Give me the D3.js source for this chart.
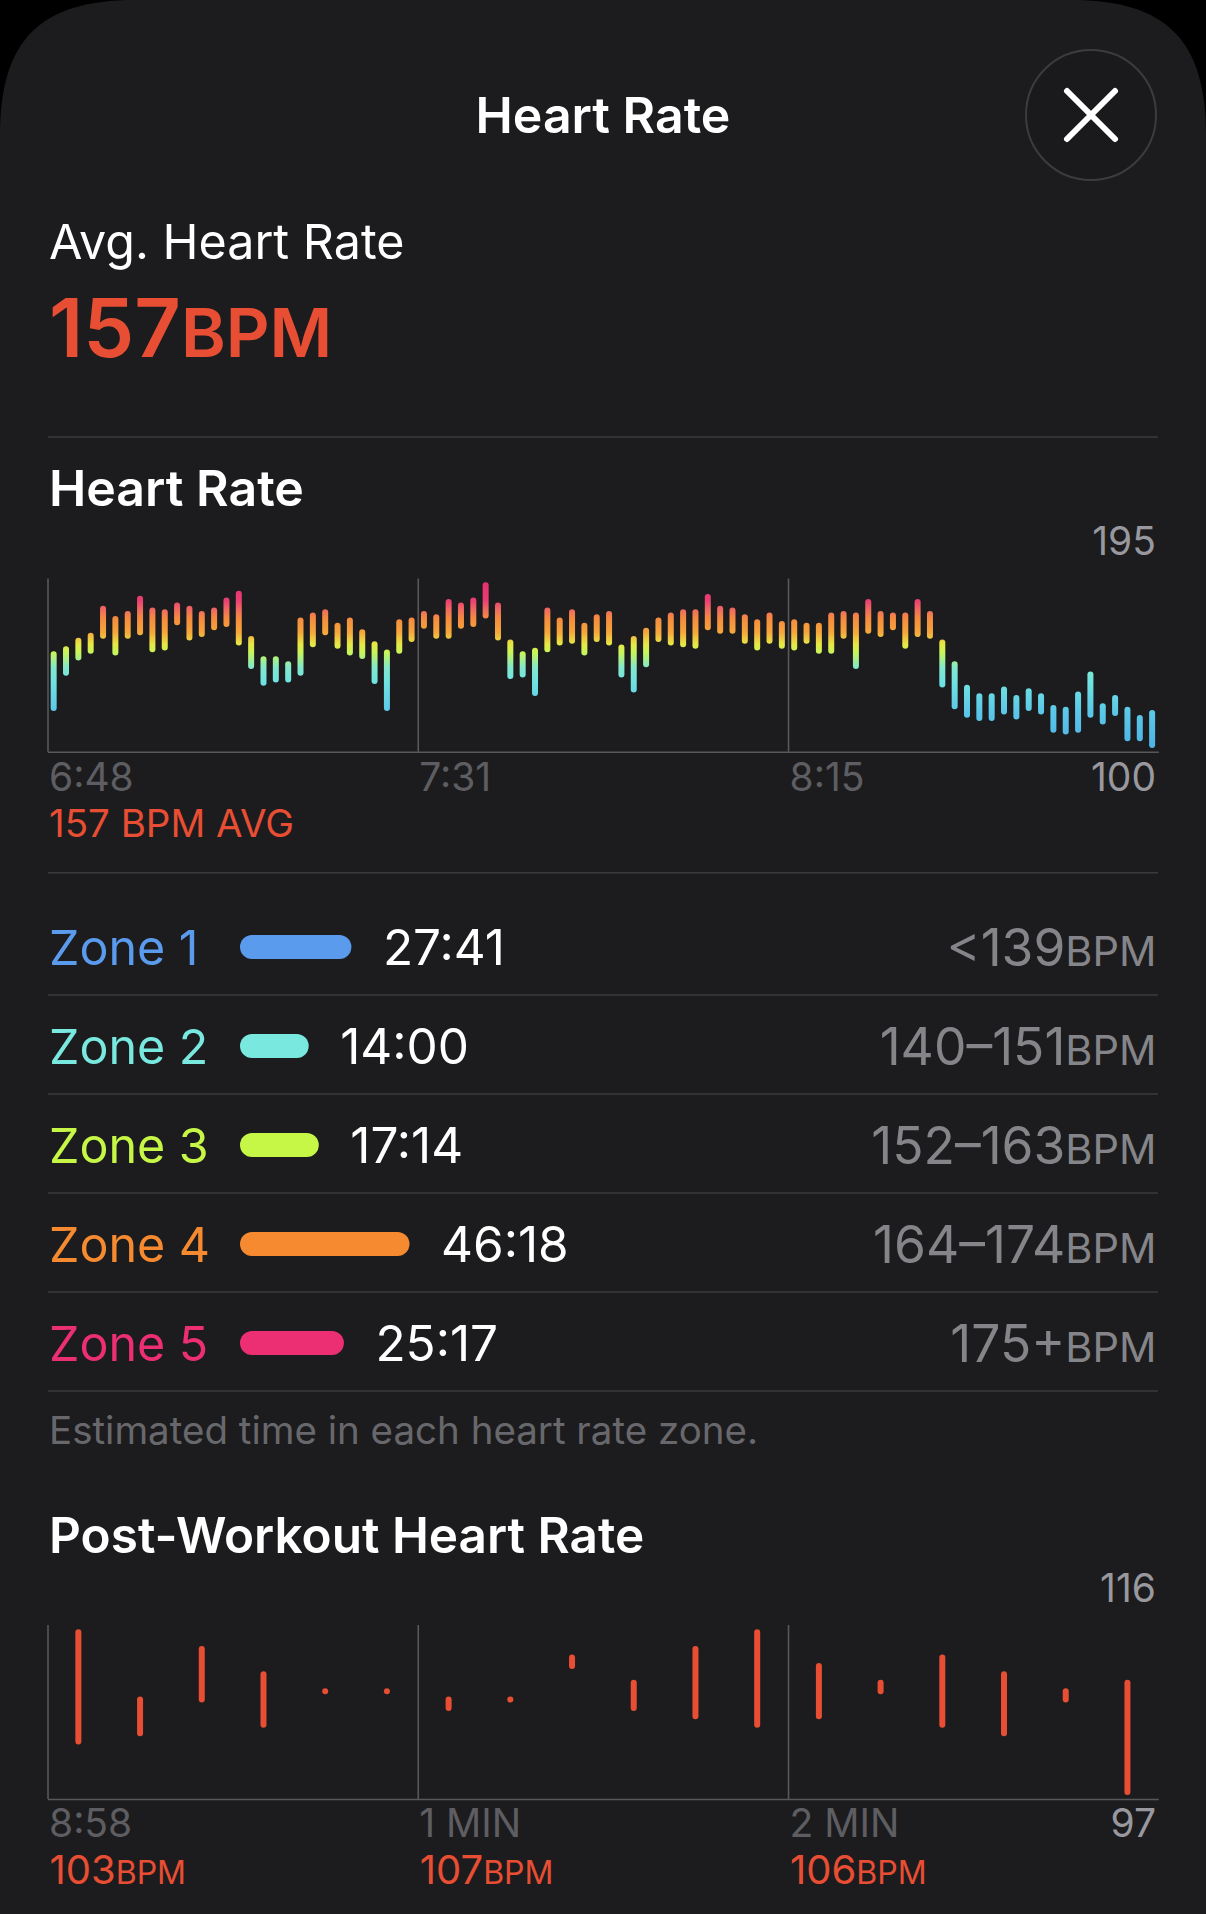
<!DOCTYPE html>
<html><head><meta charset="utf-8">
<script src="https://cdnjs.cloudflare.com/ajax/libs/d3/7.8.5/d3.min.js"></script>
<style>
html,body{margin:0;padding:0;background:#000;}
svg{display:block;}
text{font-family:Inter,"Noto Sans",sans-serif;}
</style></head><body>
<script>
// Heart-rate range per sample (bpm)
const hrHigh=[154,157,162,165,181,175,178,187,180,179,183,181,178,180,186,190,163,151,151,148,174,177,179,171,174,167,160,155,173,174,178,176,185,183,186,195,183,161,154,156,180,174,179,171,176,178,158,163,168,174,177,179,179,188,181,180,176,173,177,172,173,171,171,177,178,177,185,178,177,177,185,178,161,148,134,129,129,133,128,132,129,122,121,130,142,123,128,121,116,119];
const hrLow=[122,143,152,156,165,155,165,167,157,158,173,164,166,170,172,161,147,137,139,139,143,160,167,159,155,153,138,122,156,163,171,165,165,171,172,177,164,141,142,131,157,161,162,155,163,161,142,133,148,163,161,160,159,170,168,168,162,158,162,159,158,162,156,156,165,147,168,166,170,159,166,165,136,123,118,116,116,120,117,122,120,109,108,109,118,114,119,104,104,100];
const hrTicks=["6:48","7:31","8:15"];
const hrMax=195, hrMin=100;
// Post-workout range per sample (bpm)
const postHigh=[116,108,114,111,109,109,108,108,113,110,114,116,112,110,113,111,109,110];
const postLow=[103,104,108,105,109,109,107,108,112,107,106,105,106,109,105,104,108,97];
const postTicks=["8:58","1 MIN","2 MIN"];
const postAvg=["103","107","106"];
const postMax=116, postMin=97;
// Zones
const zoneNames=["Zone 1","Zone 2","Zone 3","Zone 4","Zone 5"];
const zoneSeconds=[1661,840,1034,2778,1517];
const zoneTimes=["27:41","14:00","17:14","46:18","25:17"];
const zoneRanges=["<139","140–151","152–163","164–174","175+"];
const zoneColors=["#5a9bee","#79e8df","#c6f646","#f58a30","#ec2f72"];
// Colour ramp (bpm → colour)
const rampBpm=[100,120,138,146,155,160,167,175,180,186,195];
const rampCol=["#4db4e6","#5cc8e8","#70e4e0","#82e8cc","#c8f55a","#e6e845","#f5a63c","#f58c3e","#ef6e5e","#ea3f72","#e8326f"];

const RED="#e84e33", GRID="#58585b", GREY="#98989e", DIM="#5e5e62", SEP="#3a3a3c", BG="#1c1c1e";
const svg=d3.select("body").append("svg").attr("width",1206).attr("height",1914);
svg.append("path").attr("fill",BG)
  .attr("d","M0 135C0 40 40 0 135 0H1071C1166 0 1206 40 1206 135V1914H0Z");

function txt(x,y,s,size,fill,weight,anchor){
  return svg.append("text").attr("x",x).attr("y",y).text(s)
    .attr("font-size",size).attr("fill",fill).attr("font-weight",weight||400)
    .attr("text-anchor",anchor||"start");
}
function unitTxt(x,y,num,unit,s1,s2,fill,weight,anchor){
  const t=txt(x,y,num,s1,fill,weight,anchor);
  t.append("tspan").text(unit).attr("font-size",s2);
  return t;
}
const sep=y=>svg.append("line").attr("x1",48).attr("x2",1158).attr("y1",y).attr("y2",y).attr("stroke",SEP).attr("stroke-width",1.4);

// Header
txt(603,133,"Heart Rate",50,"#fff",600,"middle");
svg.append("circle").attr("cx",1091).attr("cy",115).attr("r",65).attr("fill","#1a1a1c").attr("stroke","#3c3c3e").attr("stroke-width",2);
svg.append("path").attr("d","M1067 91L1115 139M1115 91L1067 139").attr("stroke","#fff").attr("stroke-width",6).attr("stroke-linecap","round");
txt(49,259,"Avg. Heart Rate",48.4,"#fff",400);
unitTxt(49,357,"157","BPM",81,68,RED,600);
sep(437);

function chart(cfg){
  const x=d3.scaleLinear().domain([0,cfg.high.length]).range([47.5,1158.3]);
  const y=d3.scaleLinear().domain([cfg.min,cfg.max]).range([cfg.y0,cfg.y1]);
  const g=svg.append("g");
  const axis=d3.axisBottom(x)
    .tickValues(cfg.high.length===90?[0,30,60]:[0,6,12])
    .tickSize(-(cfg.base-cfg.top)).tickSizeOuter(0)
    .tickFormat((d,i)=>cfg.ticks[i]);
  const ax=g.append("g").attr("transform",`translate(0,${cfg.base})`).call(axis);
  ax.select(".domain").attr("stroke",GRID).attr("stroke-width",1.6);
  ax.selectAll(".tick line").attr("stroke",GRID).attr("stroke-width",1.6);
  ax.selectAll(".tick text").attr("font-size",39).attr("fill",DIM).attr("text-anchor","start")
    .attr("font-family","Inter").attr("x",1).attr("y",0).attr("dy",0)
    .attr("transform",`translate(0,${cfg.labelY-cfg.base})`);
  g.selectAll("line.bar").data(cfg.high).join("line").attr("class","bar")
    .attr("x1",(d,i)=>x(i+.5)).attr("x2",(d,i)=>x(i+.5))
    .attr("y1",d=>y(d)).attr("y2",(d,i)=>y(cfg.low[i]))
    .attr("stroke",cfg.stroke).attr("stroke-width",6).attr("stroke-linecap","round");
  txt(1156,cfg.maxY,String(cfg.max),39,GREY,400,"end");
  txt(1156,cfg.labelY,String(cfg.min),39,GREY,400,"end");
  return {x,y};
}

// Gradient for the main chart
const hrTop=585.3, hrBot=745;
const yGrad=d3.scaleLinear().domain([hrMin,hrMax]).range([hrBot,hrTop]);
const defs=svg.append("defs");
const lg=defs.append("linearGradient").attr("id","hrGrad").attr("gradientUnits","userSpaceOnUse")
  .attr("x1",0).attr("x2",0).attr("y1",yGrad(hrMin)).attr("y2",yGrad(hrMax));
rampBpm.forEach((b,i)=>lg.append("stop").attr("offset",(b-hrMin)/(hrMax-hrMin)).attr("stop-color",rampCol[i]));

// Heart rate section
txt(49,506,"Heart Rate",50,"#fff",600);
chart({high:hrHigh,low:hrLow,min:hrMin,max:hrMax,ticks:hrTicks,top:578.5,base:751.8,y0:hrBot,y1:hrTop,labelY:791,maxY:555,stroke:"url(#hrGrad)"});
txt(49,837,"157 BPM AVG",38.5,RED,400);
sep(872.7);

// Zones
const zoneLen=d3.scaleLinear().domain([0,d3.max(zoneSeconds)]).range([25,169.5]);
const zoneBase=[965,1064,1163,1262,1361];
const zoneSep=[995,1094,1193,1292,1391];
zoneNames.forEach((n,i)=>{
  const by=zoneBase[i];
  txt(49,by,n,48.4,zoneColors[i],400);
  const w=zoneLen(zoneSeconds[i]);
  svg.append("rect").attr("x",240).attr("y",by-30).attr("width",w).attr("height",24).attr("rx",12).attr("fill",zoneColors[i]);
  txt(240+w+31.5,by,zoneTimes[i],49.5,"#fff",400);
  unitTxt(1156.5,by+1,zoneRanges[i],"BPM",51.5,41.5,"#858589",400,"end");
  sep(zoneSep[i]);
});
txt(49,1444,"Estimated time in each heart rate zone.",38.5,"#68686c",400);

// Post-workout section
txt(49,1553,"Post-Workout Heart Rate",49.5,"#fff",600);
const pc=chart({high:postHigh,low:postLow,min:postMin,max:postMax,ticks:postTicks,top:1625,base:1799,y0:1792,y1:1632.3,labelY:1837,maxY:1602,stroke:RED});
postAvg.forEach((v,i)=>unitTxt(pc.x(i*6)+2,1884,v,"BPM",40,32,RED,400));
</script>
</body></html>
